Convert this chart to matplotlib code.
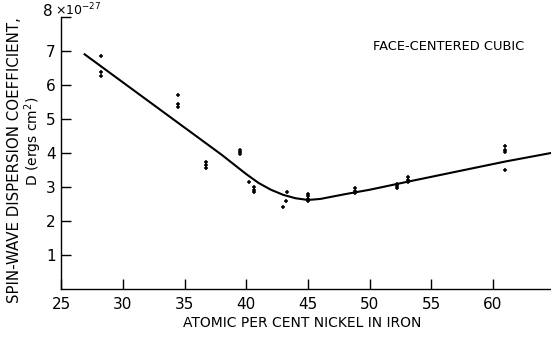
import matplotlib.pyplot as plt

# Points mesurés (pourcentage atomique de nickel, D en 1e-27 erg cm^2)
ni_pct = [28.2, 28.2, 28.2, 34.5, 34.5, 34.5, 36.7, 36.7, 36.7,
          39.5, 39.5, 39.5, 40.2, 40.6, 40.6, 40.6, 43.0, 43.2, 43.3,
          45.0, 45.0, 45.0, 45.0, 48.8, 48.8, 48.8, 52.2, 52.2, 52.2,
          53.1, 53.1, 53.1, 61.0, 61.0, 61.0, 61.0]
d_coef = [6.84, 6.38, 6.27, 5.69, 5.44, 5.34, 3.73, 3.64, 3.55,
          4.09, 4.03, 3.97, 3.15, 3.00, 2.91, 2.85, 2.42, 2.60, 2.85,
          2.79, 2.73, 2.64, 2.58, 2.97, 2.88, 2.82, 3.09, 3.03, 2.97,
          3.29, 3.20, 3.15, 4.20, 4.09, 4.03, 3.50]

# Courbe tracée à la main
curve_x = [26.9, 38.0, 40.0, 41.0, 42.0, 43.0, 44.0, 45.0, 46.0,
           48.0, 50.0, 53.0, 57.0, 61.0, 65.0]
curve_y = [6.90, 3.95, 3.38, 3.12, 2.92, 2.77, 2.67, 2.62, 2.65,
           2.79, 2.92, 3.15, 3.45, 3.75, 4.02]

x_ticks = [25, 30, 35, 40, 45, 50, 55, 60]
y_ticks = [1, 2, 3, 4, 5, 6, 7, 8]
y_labels = ["1", "2", "3", "4", "5", "6", "7", ""]

fig = plt.figure(figsize=(5.51, 3.37), dpi=100)
ax = fig.add_axes([0.111, 0.142, 0.889, 0.808])

ax.plot(curve_x, curve_y, color="black", lw=1.5)
ax.plot(ni_pct, d_coef, "+", color="black", ms=3, mew=1.1)

ax.set_xlim(25, 64.7)
ax.set_ylim(0, 8)
ax.spines["top"].set_visible(False)
ax.spines["right"].set_visible(False)
for s in ["left", "bottom"]:
    ax.spines[s].set_linewidth(1.0)

ax.set_xticks(x_ticks)
ax.set_yticks(y_ticks)
ax.set_yticklabels(y_labels)
ax.tick_params(direction="in", length=7, width=1, labelsize=11, pad=4)
ax.tick_params(axis="x", pad=6)

ax.text(-0.018, 1.02, "8", transform=ax.transAxes, ha="right", va="center", fontsize=11)
ax.text(-0.012, 1.025, "×10$^{-27}$", transform=ax.transAxes, ha="left", va="center", fontsize=9)

ax.text(56.4, 7.12, "FACE-CENTERED CUBIC", ha="center", va="center", fontsize=9.4)

fig.text(0.548, 0.02, "ATOMIC PER CENT NICKEL IN IRON", ha="center", va="bottom", fontsize=10)
fig.text(0.027, 0.525, "SPIN-WAVE DISPERSION COEFFICIENT,", rotation=90,
         ha="center", va="center", fontsize=10.8)
fig.text(0.06, 0.58, "D (ergs cm$^2$)", rotation=90,
         ha="center", va="center", fontsize=10)

fig.savefig("out.png", dpi=100)
